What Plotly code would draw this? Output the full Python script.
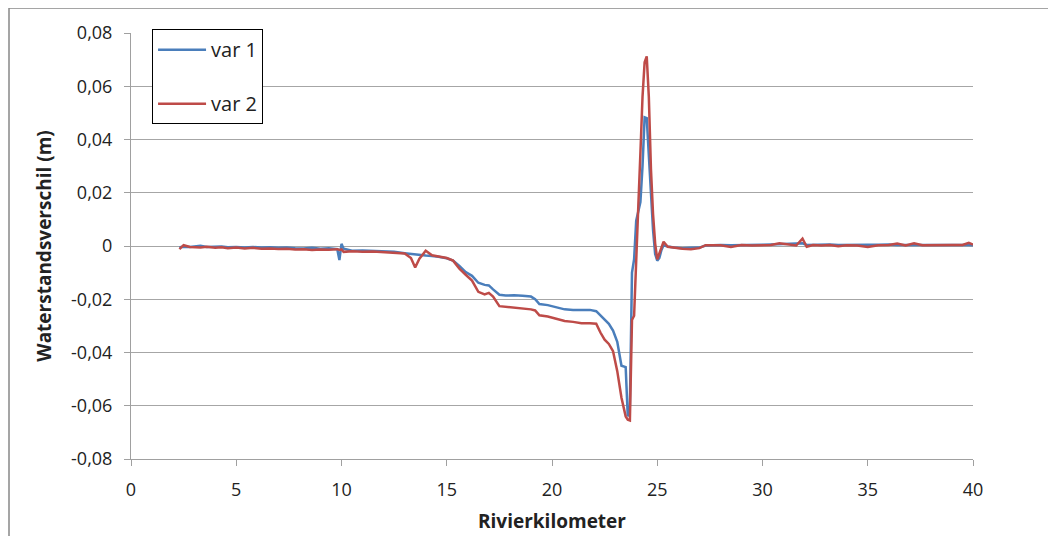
import plotly.graph_objects as go

km = [2.3, 2.5, 2.8, 3.0, 3.3, 3.6, 4.0, 4.3, 4.6, 5.0, 5.4, 5.8, 6.2, 6.6, 7.0, 7.4, 7.8, 8.2, 8.6, 9.0,
      9.4, 9.8, 9.9, 10.0, 10.1, 10.5, 11.0, 11.5, 12.0, 12.5, 13.0, 13.3, 13.5, 13.7, 14.0, 14.3, 14.6,
      15.0, 15.3, 15.6, 15.9, 16.2, 16.5, 16.8, 17.0, 17.2, 17.5, 17.8, 18.2, 18.6, 19.0, 19.2, 19.4,
      19.8, 20.2, 20.6, 21.0, 21.4, 21.8, 22.1, 22.3, 22.5, 22.7, 22.9, 23.1, 23.3, 23.5, 23.6, 23.7,
      23.8, 23.9, 24.0, 24.1, 24.2, 24.3, 24.4, 24.5, 24.6, 24.7, 24.8, 24.9, 25.0, 25.1, 25.2, 25.3,
      25.5, 25.8, 26.2, 26.6, 27.0, 27.3, 27.6, 28.0, 28.5, 29.0, 29.5, 30.0, 30.4, 30.8, 31.2, 31.6,
      31.9, 32.1, 32.4, 32.8, 33.2, 33.6, 34.0, 34.5, 35.0, 35.5, 36.0, 36.4, 36.8, 37.2, 37.6, 38.0,
      38.5, 39.0, 39.5, 39.8, 40.0]

var1 = [-0.0005, -0.0003, -0.0004, -0.0002, 0.0001, -0.0004, -0.0003, -0.0002, -0.0005, -0.0004,
        -0.0006, -0.0004, -0.0006, -0.0005, -0.0007, -0.0006, -0.0008, -0.0009, -0.0007, -0.0010,
        -0.0008, -0.0012, -0.0053, 0.0008, -0.0010, -0.0018, -0.0017, -0.0018, -0.0019, -0.0022,
        -0.0027, -0.0030, -0.0033, -0.0033, -0.0036, -0.0038, -0.0040, -0.0046, -0.0055, -0.0075,
        -0.0098, -0.0112, -0.0138, -0.0146, -0.0148, -0.0163, -0.0183, -0.0186, -0.0185, -0.0187,
        -0.0190, -0.0200, -0.0218, -0.0222, -0.0230, -0.0238, -0.0240, -0.0240, -0.0240, -0.0245,
        -0.0262, -0.0278, -0.0292, -0.0318, -0.0360, -0.0450, -0.0455, -0.0640, -0.0600, -0.0100,
        -0.0050, 0.0095, 0.0130, 0.0165, 0.0300, 0.0483, 0.0480, 0.0330, 0.0180, 0.0060,
        -0.0030, -0.0055, -0.0045, -0.0015, 0.0003, -0.0002, -0.0006, -0.0008, -0.0007, -0.0006,
        0.0002, 0.0003, 0.0004, 0.0003, 0.0003, 0.0004, 0.0005, 0.0006, 0.0007, 0.0008,
        0.0007, 0.0010, 0.0004, 0.0005, 0.0004, 0.0006, 0.0004, 0.0005, 0.0006, 0.0005,
        0.0005, 0.0006, 0.0004, 0.0005, 0.0004, 0.0004, 0.0005, 0.0004, 0.0004, 0.0005,
        0.0004, 0.0003]

var2 = [-0.0012, 0.0003, -0.0004, -0.0005, -0.0006, -0.0003, -0.0007, -0.0005, -0.0008, -0.0006,
        -0.0009, -0.0007, -0.0010, -0.0009, -0.0011, -0.0010, -0.0013, -0.0012, -0.0015, -0.0013,
        -0.0014, -0.0012, -0.0015, -0.0013, -0.0022, -0.0020, -0.0022, -0.0021, -0.0023, -0.0024,
        -0.0028, -0.0045, -0.0081, -0.0048, -0.0018, -0.0035, -0.0040, -0.0045, -0.0055, -0.0085,
        -0.0108, -0.0130, -0.0172, -0.0182, -0.0176, -0.0190, -0.0226, -0.0228, -0.0230, -0.0233,
        -0.0238, -0.0242, -0.0260, -0.0265, -0.0274, -0.0282, -0.0285, -0.0290, -0.0290, -0.0292,
        -0.0325, -0.0352, -0.0368, -0.0395, -0.0470, -0.0570, -0.0640, -0.0652, -0.0655, -0.0278,
        -0.0262, -0.0080, 0.0150, 0.0350, 0.0560, 0.0690, 0.0712, 0.0560, 0.0290, 0.0120,
        0.0010, -0.0050, -0.0030, -0.0008, 0.0016, -0.0003, -0.0007, -0.0010, -0.0012, -0.0008,
        0.0003, 0.0002, 0.0003, -0.0004, 0.0004, 0.0002, 0.0003, 0.0004, 0.0010, 0.0005,
        0.0002, 0.0028, -0.0003, 0.0004, 0.0002, 0.0004, -0.0001, 0.0003, 0.0002, -0.0004,
        0.0003, 0.0004, 0.0009, 0.0002, 0.0010, 0.0003, 0.0004, 0.0003, 0.0004, 0.0004,
        0.0012, 0.0005]

y_ticks = [-0.08, -0.06, -0.04, -0.02, 0, 0.02, 0.04, 0.06, 0.08]
y_labels = ["-0,08", "-0,06", "-0,04", "-0,02", "0", "0,02", "0,04", "0,06", "0,08"]
x_ticks = [0, 5, 10, 15, 20, 25, 30, 35, 40]

FONT = "Open Sans"
ML, MT, PW, PH = 123, 25, 842, 426

fig = go.Figure()
fig.add_trace(go.Scatter(x=km, y=var1, mode="lines", name="var 1", legendgroup="a",
                         line=dict(color="#4a7ebb", width=2.5)))
fig.add_trace(go.Scatter(x=km, y=var2, mode="lines", name="var 2", legendgroup="b",
                         line=dict(color="#be4b48", width=2.5)))

fig.update_layout(
    width=1056, height=536,
    margin=dict(l=ML, r=1056 - ML - PW, t=MT, b=536 - MT - PH, pad=0),
    paper_bgcolor="white", plot_bgcolor="white",
    font=dict(family=FONT, size=18, color="#222222"),
    showlegend=True,
    legend=dict(x=0.025, y=1.009, xanchor="left", yanchor="top",
                bgcolor="white", bordercolor="black", borderwidth=1,
                font=dict(family=FONT, size=20, color="#222222"),
                tracegroupgap=25, itemwidth=48),
    xaxis=dict(range=[0, 40], tickvals=x_ticks, showgrid=False, zeroline=False,
               showline=True, linecolor="#a0a0a0", linewidth=1,
               ticks="outside", ticklen=6, tickcolor="#a0a0a0",
               tickfont=dict(family=FONT, size=18), ticklabelstandoff=8,
               title=dict(text="<b>Rivierkilometer</b>", font=dict(family=FONT, size=19), standoff=15)),
    yaxis=dict(range=[-0.08, 0.08], tickvals=y_ticks, ticktext=y_labels,
               showgrid=True, gridcolor="#a6a6a6", gridwidth=1, zeroline=False,
               showline=True, linecolor="#a0a0a0", linewidth=1,
               ticks="outside", ticklen=6, tickcolor="#a0a0a0",
               tickfont=dict(family=FONT, size=18), ticklabelstandoff=8,
               title=dict(text="<b>Waterstandsverschil (m)</b>", font=dict(family=FONT, size=19), standoff=14)),
    shapes=[dict(type="rect", xref="paper", yref="paper",
                 x0=(9 - 131) / PW, x1=(1080 - 131) / PW,
                 y0=(459 - 560) / PH, y1=(459 - 8) / PH,
                 line=dict(color="#888888", width=1.5), fillcolor="rgba(0,0,0,0)", layer="below")],
)

fig.write_html("out.html")
